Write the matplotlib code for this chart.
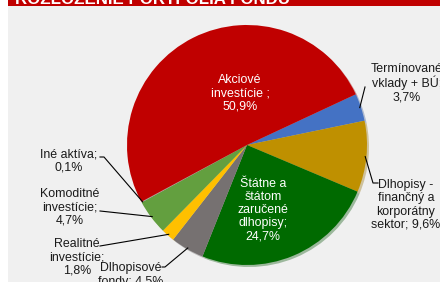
import matplotlib
matplotlib.use("Agg")
import matplotlib.pyplot as plt
import numpy as np

plt.rcParams['font.family'] = ['Liberation Sans', 'DejaVu Sans']

title = "ROZLOŽENIE PORTFÓLIA FONDU"
categories = ["Termínované\nvklady + BÚ;", "Dlhopisy -\nfinančný a\nkorporátny\nsektor;",
              "Štátne a\nštátom\nzaručené\ndlhopisy;", "Dlhopisové\nfondy;",
              "Realitné\ninvestície;", "Komoditné\ninvestície;", "Iné aktíva;",
              "Akciové\ninvestície ;"]
values = [3.7, 9.6, 24.7, 4.5, 1.8, 4.7, 0.1, 50.9]
value_labels = ["3,7%", "9,6%", "24,7%", "4,5%", "1,8%", "4,7%", "0,1%", "50,9%"]
colors = ["#4472C4", "#BF9000", "#006A00", "#767171", "#FFC000", "#639F3F", "#A5A5A5", "#C00000"]

W, H = 440, 282
fig = plt.figure(figsize=(W / 100, H / 100), dpi=100)
fig.patch.set_facecolor("white")
# grey panel background
fig.add_artist(plt.Rectangle((8 / W, 0), 1, 1, transform=fig.transFigure, facecolor="#F0F0F0", edgecolor="none", zorder=0))
# red title bar
fig.add_artist(plt.Rectangle((8 / W, (H - 5.5) / H), 1, 1, transform=fig.transFigure, facecolor="#C00000", edgecolor="none", zorder=1))
fig.text(15 / W, (H - 4) / H, title, color="white", fontsize=12.2, fontweight="bold", va="baseline", ha="left", zorder=2)

cx, cy, R = 247, 145, 120
ax = fig.add_axes([(cx - R) / W, (H - cy - R) / H, 2 * R / W, 2 * R / H])
ax.set_xlim(-1, 1)
ax.set_ylim(-1, 1)
ax.axis("off")
ax.patch.set_alpha(0)

wedges, _ = ax.pie(values, colors=colors, startangle=25, counterclock=False, radius=1,
                   center=(0, 0), wedgeprops=dict(linewidth=0),
                   shadow=dict(ox=0.012, oy=-0.012, shade=0.25, alpha=0.35))
ax.set_xlim(-1, 1)
ax.set_ylim(-1, 1)
ax.set_aspect("equal")

def px(x, y):
    return ((x - cx) / R, (cy - y) / R)

fs = 8.9
ls = 1.12
# inside labels
ax.text(*px(240, 93), categories[7] + "\n" + value_labels[7], color="white", ha="center", va="center", fontsize=fs, linespacing=ls)
ax.text(*px(263, 210), categories[2] + "\n" + value_labels[2], color="white", ha="center", va="center", fontsize=fs, linespacing=ls)

def mid(w):
    a = np.deg2rad((w.theta1 + w.theta2) / 2)
    return np.cos(a), np.sin(a)

# outside labels: (index, text pos, text ha, leader path points in px after wedge point)
outs = [
    (0, (407, 83), "center", [(365, 87)]),
    (1, (406, 205), "center", [(373, 183), (378, 183)]),
    (6, (69, 161), "center", [(104, 157), (100, 157)]),
    (5, (70, 207), "center", [(100, 211)]),
    (4, (77, 257), "center", [(100, 246)]),
    (3, (131, 275), "center", [(165, 267), (162, 267)]),
]
for i, tpos, ha, path in outs:
    if i == 6:
        w = wedges[i]
        a = np.deg2rad(w.theta2)
        start = (np.cos(a) * 0.99, np.sin(a) * 0.99)
    else:
        m = mid(wedges[i])
        start = (m[0] * 0.99, m[1] * 0.99)
    pts = [start] + [px(*p) for p in path]
    xs, ys = zip(*pts)
    ax.plot(xs, ys, color="black", lw=0.8, clip_on=False, zorder=5)
    ax.text(*px(*tpos), categories[i] + "\n" + value_labels[i] if i not in (1, 3) else categories[i] + " " + value_labels[i],
            ha=ha, va="center", fontsize=fs, linespacing=ls, color="#1a1a1a", clip_on=False)

fig.savefig("out.png", dpi=100)
